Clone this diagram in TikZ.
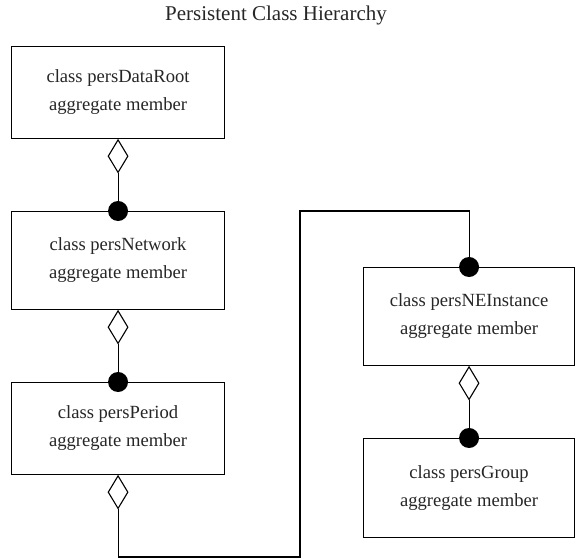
\documentclass[tikz,border=0pt]{standalone}
\usepackage{fontspec}
\setmainfont{Liberation Serif}
\usetikzlibrary{shapes.geometric}
\begin{document}
\begin{tikzpicture}[x=1pt,y=-1pt,
  classbox/.style={draw=black,line width=1.1pt,rectangle,inner sep=0pt,anchor=north west,
    align=center,font=\fontsize{18.6}{28}\selectfont,text=black!85},
  agg/.style={draw=black,fill=white,line width=1.1pt,diamond,inner sep=0pt,
    minimum width=20pt,minimum height=33pt,anchor=north},
  dot/.style={circle,fill=black,inner sep=0pt,minimum size=20pt},
  link/.style={draw=black,line width=1.1pt}]
\useasboundingbox (0,0) rectangle (576,559);
\node[font=\fontsize{21}{25}\selectfont,text=black!85,anchor=base] (title) at (276,21) {Persistent Class Hierarchy};

\node[classbox,minimum width=213pt,minimum height=92pt] (b1) at (11,46) {class persDataRoot\\aggregate member};
\node[classbox,minimum width=213pt,minimum height=98pt] (b2) at (11,211) {class persNetwork\\aggregate member};
\node[classbox,minimum width=213pt,minimum height=92pt] (b3) at (11,382) {class persPeriod\\aggregate member};
\node[classbox,minimum width=211pt,minimum height=98pt] (b4) at (363,267) {class persNEInstance\\aggregate member};
\node[classbox,minimum width=211pt,minimum height=99pt] (b5) at (363,438) {class persGroup\\aggregate member};

\node[agg] (d1) at (b1.south) {};
\node[agg] (d2) at (b2.south) {};
\node[agg] (d3) at (b3.south) {};
\node[agg] (d4) at (b4.south) {};

\node[dot] (c2) at (b2.north) {};
\node[dot] (c3) at (b3.north) {};
\node[dot] (c4) at (b4.north) {};
\node[dot] (c5) at (b5.north) {};

\coordinate (p1) at (300,557);
\coordinate (p2) at (300,211);

\draw[link] (d1.south) -- (c2.north);
\draw[link] (d2.south) -- (c3.north);
\draw[link] (d4.south) -- (c5.north);
\draw[link] (d3.south) |- (p1) -- (p2) -| (c4.north);
\end{tikzpicture}
\end{document}
